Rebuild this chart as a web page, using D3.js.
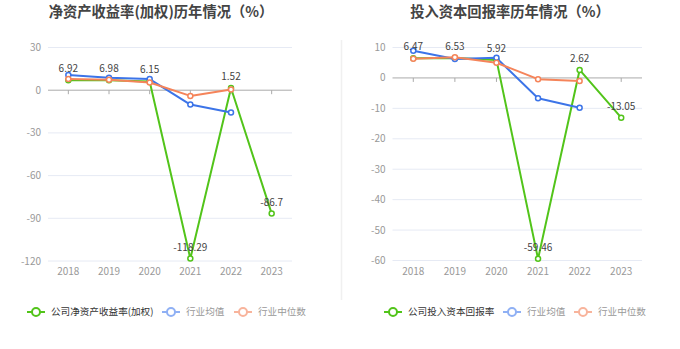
<!DOCTYPE html>
<html><head><meta charset="utf-8">
<script src="https://cdn.jsdelivr.net/npm/d3@7/dist/d3.min.js"></script>
<style>
body{margin:0;background:#fff;}
svg{display:block;font-family:"Noto Sans CJK SC","Noto Sans",sans-serif;}
</style></head>
<body><svg id="c" width="680" height="349"></svg>
<script>
const years = ["2018","2019","2020","2021","2022","2023"];
const roeCompany = [6.92, 6.98, 6.15, -118.29, 1.52, -86.7];
const roeMean = [10.6, 8.7, 7.8, -10.1, -15.6, null];
const roeMedian = [7.8, 7.3, 5.4, -4.0, 0.5, null];
const roeTicks = [30, 0, -30, -60, -90, -120];
const roicCompany = [6.47, 6.53, 5.92, -59.46, 2.62, -13.05];
const roicMean = [8.9, 6.2, 6.6, -6.7, -9.8, null];
const roicMedian = [6.3, 6.8, 5.0, -0.4, -1.0, null];
const roicTicks = [10, 0, -10, -20, -30, -40, -50, -60];

const GREEN = "#52c41a", BLUE = "#3c74e8", ORANGE = "#f5845a";
const svg = d3.select("#c");

// divider
svg.append("line").attr("x1",341.5).attr("x2",341.5).attr("y1",40).attr("y2",300)
  .attr("stroke","#f0f0f0").attr("stroke-width",1.5);

function chart(o){
  const g = svg.append("g");
  g.append("text").attr("x",o.titleX).attr("y",17).attr("text-anchor","middle")
    .attr("font-size",14.3).attr("font-weight","bold").attr("fill","#444").text(o.title);
  const x = d3.scalePoint().domain(years).range([o.x0,o.x1]).padding(0.5);
  const y = d3.scaleLinear().domain([o.ticks[o.ticks.length-1], o.ticks[0]]).range([o.yBot,o.yTop]);
  // grid
  g.selectAll(".grid").data(o.ticks.filter(t=>t!==0)).enter().append("line")
    .attr("x1",o.x0).attr("x2",o.x1).attr("y1",d=>y(d)).attr("y2",d=>y(d))
    .attr("stroke","#e6eaf4").attr("stroke-width",1);
  // y labels
  g.selectAll(".yl").data(o.ticks).enter().append("text")
    .attr("x",o.x0-7).attr("y",d=>y(d)).attr("dy","0.35em").attr("text-anchor","end")
    .attr("font-size",10).attr("fill","#999").text(d=>d);
  // zero axis
  g.append("line").attr("x1",o.x0).attr("x2",o.x1).attr("y1",y(0)).attr("y2",y(0))
    .attr("stroke","#aaa").attr("stroke-width",1);
  g.selectAll(".tk").data(years).enter().append("line")
    .attr("x1",d=>x(d)).attr("x2",d=>x(d)).attr("y1",y(0)).attr("y2",y(0)+4)
    .attr("stroke","#aaa");
  // x labels
  g.selectAll(".xl").data(years).enter().append("text")
    .attr("x",d=>x(d)).attr("y",o.yBot+14).attr("text-anchor","middle")
    .attr("font-size",10).attr("fill","#999").text(d=>d);
  const series = [[o.company,GREEN],[o.mean,BLUE],[o.median,ORANGE]];
  const line = d3.line().defined(d=>d[1]!=null).x(d=>x(d[0])).y(d=>y(d[1]));
  series.forEach(([vals,col])=>{
    const pts = years.map((yr,i)=>[yr,vals[i]]);
    g.append("path").datum(pts).attr("d",line).attr("fill","none")
      .attr("stroke",col).attr("stroke-width",2).attr("stroke-linejoin","round");
    g.selectAll(null).data(pts.filter(d=>d[1]!=null)).enter().append("circle")
      .attr("cx",d=>x(d[0])).attr("cy",d=>y(d[1])).attr("r",2.5)
      .attr("fill","#fff").attr("stroke",col).attr("stroke-width",1.5);
  });
  // labels
  g.selectAll(".vl").data(years.map((yr,i)=>[yr,o.company[i]])).enter().append("text")
    .attr("x",d=>x(d[0])).attr("y",d=>y(d[1])-8).attr("text-anchor","middle")
    .attr("font-size",10).attr("fill","#444").text(d=>d[1]);
  // legend
  const items = [[o.legend,GREEN,"#333"],["行业均值","#8fb0f4","#999"],["行业中位数","#f8b49c","#999"]];
  items.forEach(([t,col,tc],i)=>{
    const lg = g.append("g").attr("transform",`translate(${o.legPos[i]},312)`);
    lg.append("line").attr("x1",0).attr("x2",18).attr("stroke",col).attr("stroke-width",2);
    lg.append("circle").attr("cx",9).attr("r",4).attr("fill","#fff").attr("stroke",col).attr("stroke-width",2);
    lg.append("text").attr("x",24).attr("dy","0.35em").attr("font-size",9.6).attr("fill",tc).text(t);
  });
}

chart({title:"净资产收益率(加权)历年情况（%）", titleX:161, x0:48, x1:292, yTop:47.5, yBot:261,
  ticks:roeTicks, company:roeCompany, mean:roeMean, median:roeMedian,
  legend:"公司净资产收益率(加权)", legPos:[27,162,234]});
chart({title:"投入资本回报率历年情况（%）", titleX:510, x0:392.5, x1:642, yTop:47.5, yBot:260.5,
  ticks:roicTicks, company:roicCompany, mean:roicMean, median:roicMedian,
  legend:"公司投入资本回报率", legPos:[384,503,574]});
</script></body></html>
